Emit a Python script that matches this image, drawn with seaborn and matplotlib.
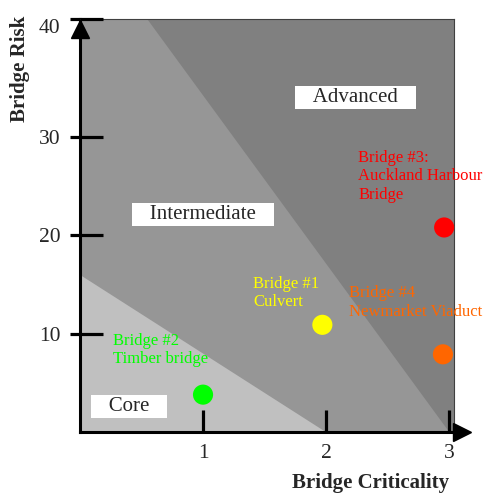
import seaborn as sns
import pandas as pd
import matplotlib as mpl
import matplotlib.pyplot as plt

# bridges: criticality (x) vs risk (y)
bridge_names = ['Bridge #1', 'Bridge #2', 'Bridge #3', 'Bridge #4']
bridge_crit = [1.97, 1.0, 2.96, 2.95]
bridge_risk = [10.9, 3.8, 20.8, 7.9]
bridge_colors = ['#ffff00', '#00ff00', '#ff0000', '#ff6600']
bridge_labels = ['Bridge #1\nCulvert', 'Bridge #2\nTimber bridge',
                 'Bridge #3:\nAuckland Harbour\nBridge', 'Bridge #4\nNewmarket Viaduct']
label_x = [1.41, 0.27, 2.26, 2.19]
label_y = [15.9, 10.1, 28.7, 14.9]

# zone boundaries
core_x = [0, 2]
core_y = [16, 0]
inter_x = [0, 0.545, 3.0]
inter_y = [42, 42, 0]

zone_names = ['Core', 'Intermediate', 'Advanced']
zone_x = [0.40, 1.0, 2.24]
zone_y = [2.6, 22.1, 34.0]

x_ticks = [1, 2, 3]
y_ticks = [10, 20, 30, 42]
y_tick_labels = ['10', '20', '30', '40']

sns.set_style("white")
plt.rcParams['font.family'] = ['Liberation Serif', 'DejaVu Serif']

df = pd.DataFrame({'name': bridge_names, 'crit': bridge_crit, 'risk': bridge_risk})

fig = plt.figure(figsize=(4.91, 4.93), dpi=100)
ax = fig.add_axes([80 / 491, 1 - 432 / 493, 374 / 491, 413 / 493])
ax.set_facecolor('#808080')
ax.set_axisbelow(False)

ax.fill_between(inter_x, 0, inter_y, color='#969696', linewidth=0)
ax.fill_between(core_x, 0, core_y, color='#c0c0c0', linewidth=0)

sns.scatterplot(data=df, x='crit', y='risk', hue='name',
                palette=dict(zip(bridge_names, bridge_colors)),
                s=210, linewidth=0, legend=False, ax=ax, zorder=5, clip_on=False)

for lab, lx, ly, c in zip(bridge_labels, label_x, label_y, bridge_colors):
    ax.text(lx, ly, lab, color=c, fontsize=12, ha='left', va='top')

for name, zx, zy in zip(zone_names, zone_x, zone_y):
    ax.text(zx, zy, '\u2002\u2005' + name + '\u2002\u2005', fontsize=15, ha='center', va='center',
            bbox=dict(boxstyle='square,pad=0.1', fc='white', ec='none'))

ax.set_xlim(0, 3.04)
ax.set_ylim(0, 42)

ax.set_xticks(x_ticks)
ax.set_xticklabels([str(t) for t in x_ticks])
ax.set_yticks(y_ticks)
ax.set_yticklabels(y_tick_labels)
ax.tick_params(axis='x', direction='in', length=16, width=2.3, color='black',
               labelsize=15.5, pad=9, bottom=True)
ax.tick_params(axis='y', direction='in', length=16.5, width=2.3, color='black',
               labelsize=15.5, pad=14, left=True)
# outward stubs of the y ticks
ax.yaxis.remove_overlapping_locs = False
ax.yaxis.set_minor_locator(mpl.ticker.FixedLocator(y_ticks))
ax.tick_params(axis='y', which='minor', direction='out', length=7, width=2.3, color='black', left=True)
ax.get_yticklabels()[-1].set_va('top')

for side in ['left', 'bottom']:
    ax.spines[side].set_linewidth(2.2)
    ax.spines[side].set_color('black')
for side in ['top', 'right']:
    ax.spines[side].set_linewidth(0.8)
    ax.spines[side].set_color('#404040')

# axis arrows
ax.plot(1.021, 0, '>', color='black', markersize=13, transform=ax.transAxes, clip_on=False, zorder=6)
ax.plot(0, 0.976, '^', color='black', markersize=13, transform=ax.transAxes, clip_on=False, zorder=6)

ax.set_xlabel('Bridge Criticality', fontsize=15, fontweight='bold')
ax.set_ylabel('Bridge Risk', fontsize=15, fontweight='bold')
ax.xaxis.set_label_coords(0.778, -0.123)
ax.xaxis.label.set_va('center')
ax.yaxis.set_label_coords(-0.16, 0.88)
ax.yaxis.label.set_va('center')

plt.savefig('out.png', dpi=100)
